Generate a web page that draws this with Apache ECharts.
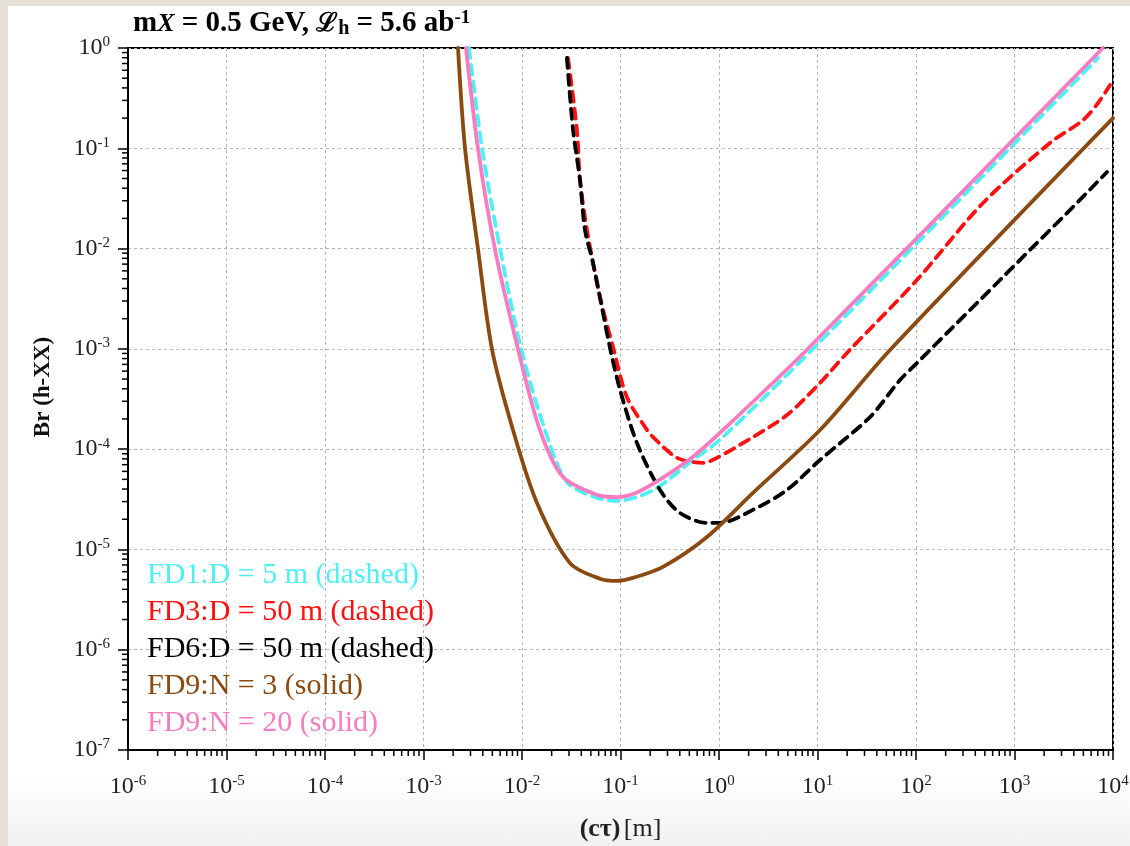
<!DOCTYPE html>
<html>
<head>
<meta charset="utf-8">
<script src="https://cdn.jsdelivr.net/npm/echarts@6/dist/echarts.min.js"></script>
<style>
  html, body { margin:0; padding:0; width:1130px; height:846px; background:#e6dfd5; overflow:hidden; }
  #panel { position:absolute; left:8px; top:6px; width:1122px; height:840px;
           background:linear-gradient(to bottom, #ffffff 0%, #ffffff 92%, #f1f1f1 100%); }
  #chart { position:absolute; left:0; top:0; width:1130px; height:846px; }
</style>
</head>
<body>
<div id="panel"></div>
<div id="chart"></div>
<script>
// ---- tick labels (decade exponents) ----
const xTickExps = [-6, -5, -4, -3, -2, -1, 0, 1, 2, 3, 4];
const yTickExps = [-7, -6, -5, -4, -3, -2, -1, 0];

// ---- series names / colours ----
const seriesNames = [
  'FD1:D = 5 m (dashed)',
  'FD3:D = 50 m (dashed)',
  'FD6:D = 50 m (dashed)',
  'FD9:N = 3 (solid)',
  'FD9:N = 20 (solid)'
];

// ---- data: [cτ (m), Br] ----
const fd1 = [
  [2.9e-3, 1], [3.93e-3, 0.1], [5.98e-3, 0.01], [9.8e-3, 1e-3], [1.71e-2, 1.55e-4],
  [2.86e-2, 4.7e-5], [5.6e-2, 3.3e-5], [9.2e-2, 3.05e-5], [0.214, 3.9e-5], [0.544, 7.8e-5],
  [1.02, 1.24e-4], [9.0, 1.0e-3], [7050, 0.795]
];
const fd3 = [
  [2.93e-2, 0.795], [3.61e-2, 0.152], [3.88e-2, 4.83e-2], [4.57e-2, 1.53e-2], [6.19e-2, 3.29e-3],
  [8.4e-2, 1.04e-3], [0.116, 3.31e-4], [0.186, 1.55e-4], [0.214, 1.32e-4], [0.375, 8.2e-5],
  [0.689, 7.3e-5], [0.955, 8.2e-5], [2.21, 1.32e-4], [4.9, 2.19e-4], [10.6, 4.57e-4],
  [19.9, 9.1e-4], [102, 4.86e-3], [479, 2.85e-2], [2290, 0.113], [4960, 0.191],
  [7050, 0.283], [9340, 0.428]
];
const fd6 = [
  [2.86e-2, 0.795], [3.30e-2, 0.152], [3.88e-2, 4.83e-2], [4.36e-2, 1.53e-2], [5.26e-2, 7.2e-3],
  [7.8e-2, 1.04e-3], [9.9e-2, 3.89e-4], [0.147, 1.15e-4], [0.252, 3.92e-5],
  [0.402, 2.31e-5], [0.755, 1.84e-5], [1.02, 1.84e-5], [2.21, 2.48e-5], [4.9, 3.92e-5],
  [10.6, 7.8e-5], [34.1, 2.09e-4], [68.9, 4.9e-4], [102, 7.2e-4], [221, 1.54e-3],
  [713, 4.86e-3], [1540, 1.04e-2], [3410, 2.26e-2], [8690, 5.8e-2]
];
const fd9n3 = [
  [2.24e-3, 1], [2.64e-3, 0.1], [3.57e-3, 0.01], [4.95e-3, 1e-3], [8.1e-3, 1.55e-4],
  [1.42e-2, 2.9e-5], [3.07e-2, 7.3e-6], [6.2e-2, 5.1e-6], [9.2e-2, 4.85e-6], [0.134, 5.2e-6],
  [0.27, 6.7e-6], [0.755, 1.33e-5], [2.21, 3.66e-5], [10.6, 1.55e-4], [54.5, 9.75e-4],
  [1e4, 0.2]
];
const fd9n20 = [
  [2.70e-3, 1], [3.57e-3, 0.1], [5.3e-3, 0.01], [9.1e-3, 1e-3], [1.52e-2, 1.55e-4],
  [2.6e-2, 5.3e-5], [5.8e-2, 3.5e-5], [9.2e-2, 3.33e-5], [0.147, 3.7e-5], [0.27, 5.2e-5],
  [0.544, 8.4e-5], [1.02, 1.45e-4], [7.8, 9.8e-4], [7900, 1]
];

const colors = ['#4ff0f4', '#ff1010', '#000000', '#8b4a12', '#f77cc0'];
const dashed = [true, true, true, false, false];
const seriesData = [fd1, fd3, fd6, fd9n3, fd9n20];

const xMin = Math.pow(10, xTickExps[0]), xMax = Math.pow(10, xTickExps[xTickExps.length - 1]);
const yMin = Math.pow(10, yTickExps[0]), yMax = Math.pow(10, yTickExps[yTickExps.length - 1]);

// minor tick positions (2..9 x decade) for both axes
const minorTicks = [];
for (let i = 0; i < xTickExps.length - 1; i++)
  for (let m = 2; m <= 9; m++) minorTicks.push([m * Math.pow(10, xTickExps[i]), yMin, 0]);
for (let i = 0; i < yTickExps.length - 1; i++)
  for (let m = 2; m <= 9; m++) minorTicks.push([xMin, m * Math.pow(10, yTickExps[i]), 1]);

const serif = 'Liberation Serif';
function expLabel(v) {
  const e = Math.round(Math.log10(v));
  return '{b|10}{s|' + e + '}';
}
const labelRich = {
  b: { fontFamily: serif, fontSize: 24, color: '#222', lineHeight: 26 },
  s: { fontFamily: serif, fontSize: 15, color: '#222', lineHeight: 14, verticalAlign: 'top' }
};

const series = seriesData.map((d, i) => ({
  name: seriesNames[i],
  type: 'line',
  data: d,
  showSymbol: false,
  symbol: 'none',
  smooth: 0.3,
  clip: true,
  lineStyle: { color: colors[i], width: 3.8, type: dashed[i] ? [10, 7] : 'solid', cap: 'round' },
  itemStyle: { color: colors[i] },
  z: 3 + i
}));

series.push({
  type: 'custom',
  name: 'minorTicks',
  clip: false,
  silent: true,
  z: 10,
  data: minorTicks,
  renderItem: function (params, api) {
    const p = api.coord([api.value(0), api.value(1)]);
    const dir = api.value(2);
    const shape = dir === 0
      ? { x1: p[0], y1: p[1], x2: p[0], y2: p[1] + 6 }
      : { x1: p[0], y1: p[1], x2: p[0] - 6, y2: p[1] };
    return { type: 'line', shape: shape, style: { stroke: '#000', lineWidth: 1.5 } };
  }
});

const chart = echarts.init(document.getElementById('chart'), null, { renderer: 'canvas' });
chart.setOption({
  animation: false,
  backgroundColor: 'transparent',
  title: {
    left: 128, top: 4,
    text: '{m|m}{x|X}{t| = 0.5 GeV, }{l|ℒ}{h|h}{t| = 5.6 ab}{s|-1}',
    textStyle: {
      rich: {
        m: { fontFamily: serif, fontWeight: 'bold', fontSize: 29, color: '#000', lineHeight: 30 },
        x: { fontFamily: serif, fontStyle: 'italic', fontSize: 26, color: '#000', lineHeight: 30 },
        t: { fontFamily: serif, fontWeight: 'bold', fontSize: 29, color: '#000', lineHeight: 30 },
        l: { fontFamily: 'DejaVu Serif', fontWeight: 'bold', fontSize: 26, color: '#000', lineHeight: 30 },
        h: { fontFamily: serif, fontWeight: 'bold', fontSize: 20, color: '#000', lineHeight: 22, verticalAlign: 'bottom' },
        s: { fontFamily: serif, fontWeight: 'bold', fontSize: 19, color: '#000', lineHeight: 16, verticalAlign: 'top' }
      }
    }
  },
  legend: {
    orient: 'vertical',
    left: 137, top: 555,
    itemWidth: 0, itemHeight: 0, itemGap: 7,
    icon: 'none',
    selectedMode: false,
    data: seriesNames.map((n, i) => ({ name: n, icon: 'none', textStyle: { color: colors[i] } })),
    textStyle: { fontFamily: serif, fontSize: 30 }
  },
  grid: {
    left: 128, right: 17, top: 48, bottom: 96,
    outerBoundsMode: 'none', containLabel: false,
    show: true, borderColor: '#000', borderWidth: 2, backgroundColor: 'transparent'
  },
  xAxis: {
    type: 'log', logBase: 10, min: xMin, max: xMax, interval: 1,
    name: '{b|(cτ)} {n|[m]}',
    nameLocation: 'middle', nameGap: 66,
    nameTextStyle: {
      rich: {
        b: { fontFamily: serif, fontWeight: 'bold', fontSize: 26, color: '#222' },
        n: { fontFamily: serif, fontSize: 26, color: '#222' }
      }
    },
    axisLine: { show: true, onZero: false, lineStyle: { color: '#000', width: 2 } },
    axisTick: { show: true, inside: false, length: 10, lineStyle: { color: '#000', width: 1.5 } },
    axisLabel: { formatter: expLabel, rich: labelRich, margin: 24, showMinLabel: true, showMaxLabel: true, hideOverlap: false },
    splitLine: { show: true, lineStyle: { color: '#b5b5b5', width: 1, type: [3, 3] } }
  },
  yAxis: {
    type: 'log', logBase: 10, min: yMin, max: yMax, interval: 1,
    name: 'Br (h-XX)',
    nameLocation: 'middle', nameGap: 73, nameRotate: 90,
    nameTextStyle: { fontFamily: serif, fontWeight: 'bold', fontSize: 23, color: '#111', padding: [0, 0, 0, 24] },
    axisLine: { show: true, onZero: false, lineStyle: { color: '#000', width: 2 } },
    axisTick: { show: true, inside: false, length: 10, lineStyle: { color: '#000', width: 1.5 } },
    axisLabel: { formatter: expLabel, rich: labelRich, margin: 18, showMinLabel: true, showMaxLabel: true },
    splitLine: { show: true, lineStyle: { color: '#b5b5b5', width: 1, type: [3, 3] } }
  },
  series: series
});
</script>
</body>
</html>
